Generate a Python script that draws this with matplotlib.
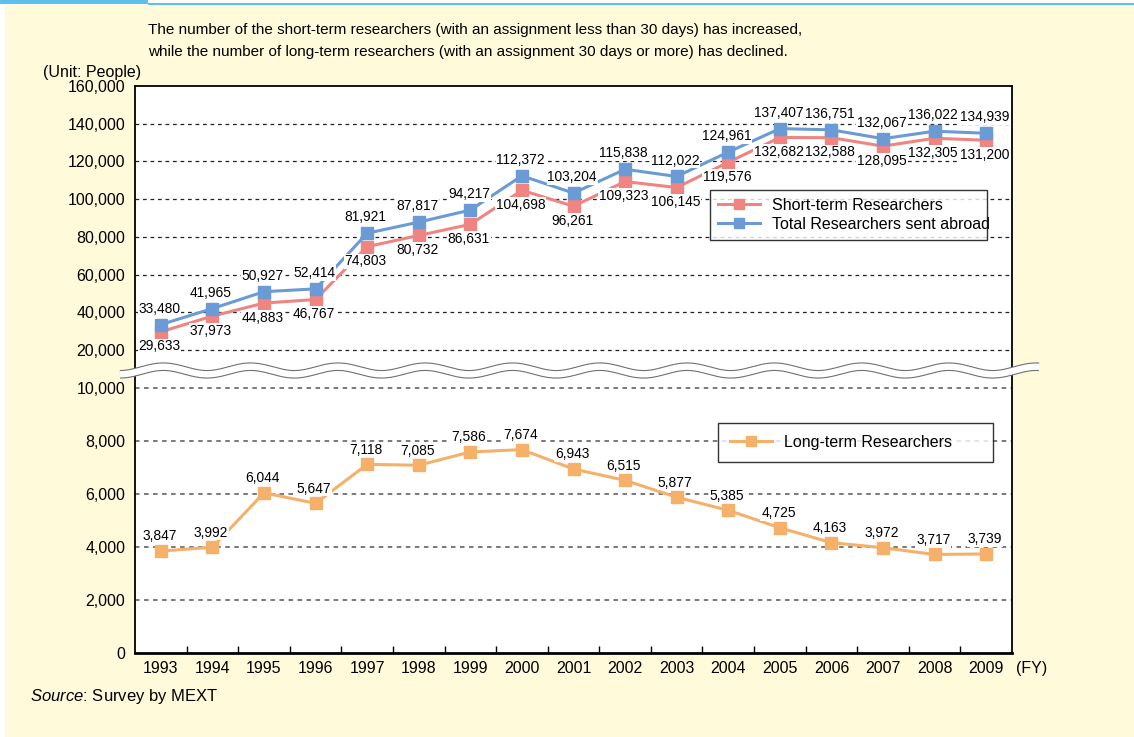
import numpy as np
import matplotlib
matplotlib.use("Agg")
import matplotlib.pyplot as plt
from matplotlib.lines import Line2D
from matplotlib.patches import Rectangle

plt.rcParams['font.family'] = ['Liberation Sans', 'DejaVu Sans']
plt.rcParams['mathtext.fontset'] = 'custom'
plt.rcParams['mathtext.it'] = 'Liberation Sans:italic'
plt.rcParams['mathtext.rm'] = 'Liberation Sans'

# data
years = ['1993', '1994', '1995', '1996', '1997', '1998', '1999', '2000', '2001',
         '2002', '2003', '2004', '2005', '2006', '2007', '2008', '2009']
total = [33480, 41965, 50927, 52414, 81921, 87817, 94217, 112372, 103204,
         115838, 112022, 124961, 137407, 136751, 132067, 136022, 134939]
short_term = [29633, 37973, 44883, 46767, 74803, 80732, 86631, 104698, 96261,
              109323, 106145, 119576, 132682, 132588, 128095, 132305, 131200]
long_term = [3847, 3992, 6044, 5647, 7118, 7085, 7586, 7674, 6943,
             6515, 5877, 5385, 4725, 4163, 3972, 3717, 3739]
upper_ticks = [20000, 40000, 60000, 80000, 100000, 120000, 140000, 160000]
lower_ticks = [0, 2000, 4000, 6000, 8000, 10000]

BG = '#FFFADA'
C_SHORT = '#EF8481'
C_TOTAL = '#6A9BD6'
C_LONG = '#F5B06A'
FS = 11.5

W, H = 1134, 737
fig = plt.figure(figsize=(W / 100, H / 100), dpi=100, facecolor='white')

# background panels
fig.patches.append(Rectangle((5 / W, 0), 1 - 5 / W, 1 - 5 / H, transform=fig.transFigure,
                             facecolor=BG, edgecolor='none', zorder=-10))
fig.patches.append(Rectangle((0, 1 - 4 / H), 148 / W, 4 / H, transform=fig.transFigure,
                             facecolor='#5BC0EB', edgecolor='none', zorder=-9))
fig.patches.append(Rectangle((148 / W, 1 - 5 / H), 1 - 148 / W, 1.5 / H, transform=fig.transFigure,
                             facecolor='#5BC0EB', edgecolor='none', zorder=-9))

left, right = 135 / W, 1012 / W
ax_u = fig.add_axes([left, 1 - 370 / H, right - left, (370 - 86) / H])
ax_l = fig.add_axes([left, 1 - 653 / H, right - left, (653 - 370) / H])

x = np.arange(len(years))

for ax in (ax_u, ax_l):
    ax.set_facecolor('white')
    ax.set_xlim(-0.5, len(years) - 0.5)
    for s in ax.spines.values():
        s.set_linewidth(1.3)
        s.set_color('black')
    ax.tick_params(axis='y', length=0, pad=7, labelsize=FS)

# upper axis
ax_u.set_ylim(9394, 160000)
ax_u.spines['bottom'].set_visible(False)
ax_u.set_xticks([])
ax_u.set_yticks(upper_ticks)
ax_u.set_yticklabels([f'{v:,}' for v in upper_ticks])
for v in upper_ticks[:-1]:
    ax_u.axhline(v, color='#222222', lw=0.9, ls=(0, (3, 3)), zorder=1)

ax_u.plot(x, short_term, color=C_SHORT, lw=2.2, marker='s', ms=8.5, zorder=3,
          label='Short-term Researchers')
ax_u.plot(x, total, color=C_TOTAL, lw=2.2, marker='s', ms=8.5, zorder=3,
          label='Total Researchers sent abroad')

lbl = dict(ha='center', va='center', fontsize=9.9, zorder=5,
           bbox=dict(facecolor='white', edgecolor='none', pad=0.5))
for xi, v in zip(x, total):
    ax_u.annotate(f'{v:,}', (xi, v), xytext=(-1, 11.5), textcoords='offset points', **lbl)
for xi, v in zip(x, short_term):
    ax_u.annotate(f'{v:,}', (xi, v), xytext=(-1, -10.5), textcoords='offset points', **lbl)

leg_u = ax_u.legend(loc='upper left', bbox_to_anchor=(710 / W, 1 - 246 / H, 277 / W, 56 / H),
                    bbox_transform=fig.transFigure, mode='expand', frameon=True, fancybox=False,
                    fontsize=FS, handlelength=2.6, borderpad=0.5, labelspacing=0.25,
                    borderaxespad=0, markerscale=0.9)
leg_u.get_frame().set_edgecolor('black')
leg_u.get_frame().set_linewidth(1.0)
leg_u.set_zorder(10)

# lower axis
ax_l.set_ylim(0, 10679)
ax_l.spines['top'].set_visible(False)
ax_l.spines['bottom'].set_linewidth(2)
ax_l.set_yticks(lower_ticks)
ax_l.set_yticklabels([f'{v:,}' for v in lower_ticks])
ax_l.set_xticks(x)
ax_l.set_xticklabels(years)
ax_l.set_xticks(x[:-1] + 0.5, minor=True)
ax_l.tick_params(axis='x', which='major', length=0, pad=6, labelsize=FS)
ax_l.tick_params(axis='x', which='minor', direction='in', length=5, width=1)
for v in lower_ticks[1:]:
    ax_l.axhline(v, color='#6E6E6E', lw=1.3, ls=(0, (2.5, 2.5)), zorder=1)

ax_l.plot(x, long_term, color=C_LONG, lw=2.2, marker='s', ms=8.5, zorder=3,
          label='Long-term Researchers')
for xi, v in zip(x, long_term):
    ax_l.annotate(f'{v:,}', (xi, v), xytext=(-1, 10.5), textcoords='offset points', **lbl)

leg_l = ax_l.legend(loc='upper left', bbox_to_anchor=(718 / W, 1 - 463 / H, 275 / W, 40 / H),
                    bbox_transform=fig.transFigure, mode='expand', frameon=True, fancybox=False,
                    fontsize=FS, handlelength=2.6, borderpad=0.75,
                    borderaxespad=0, markerscale=0.9)
leg_l.get_frame().set_edgecolor('black')
leg_l.get_frame().set_linewidth(1.0)
leg_l.set_zorder(10)

# axis break wave
wx = np.linspace(120, 1039, 600)
wy = 370.5 + 3.8 * np.sin(2 * np.pi * (wx - 207) / 87.3 + np.pi / 2)
fx, fy = wx / W, 1 - wy / H
fig.add_artist(Line2D(fx, fy, transform=fig.transFigure, color='#707070', lw=6.2,
                      solid_capstyle='butt', zorder=20))
fig.add_artist(Line2D(fx, fy, transform=fig.transFigure, color='white', lw=4.6,
                      solid_capstyle='butt', zorder=21))

# texts
fig.text(148 / W, 1 - 30 / H,
         'The number of the short-term researchers (with an assignment less than 30 days) has increased,',
         ha='left', va='center', fontsize=11)
fig.text(148 / W, 1 - 52 / H,
         'while the number of long-term researchers (with an assignment 30 days or more) has declined.',
         ha='left', va='center', fontsize=11)
fig.text(141 / W, 1 - 73 / H, '(Unit: People)', ha='right', va='center', fontsize=FS)
fig.text(1016 / W, 1 - 668 / H, '(FY)', ha='left', va='center', fontsize=FS)
fig.text(30 / W, 1 - 697 / H, r'$\it{Source}$: Survey by MEXT', ha='left', va='center',
         fontsize=12)

fig.savefig('out.png', dpi=100, facecolor=fig.get_facecolor())
